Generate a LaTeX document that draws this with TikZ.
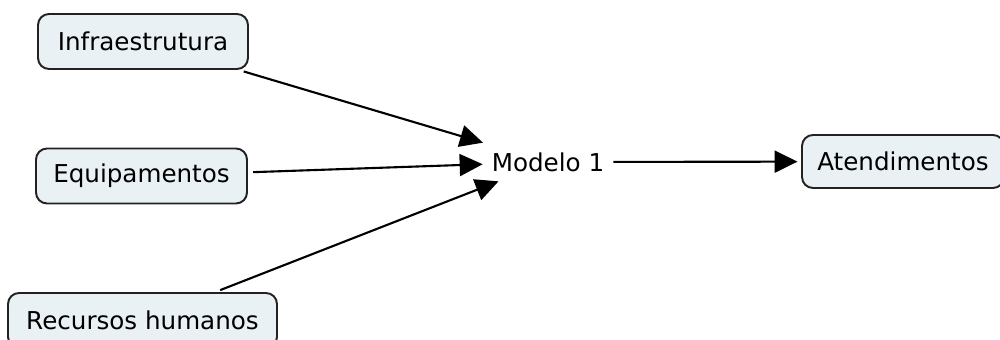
\documentclass[tikz,border=0pt]{standalone}
\usepackage{fontspec}
\setmainfont{DejaVu Sans}
\usetikzlibrary{arrows.meta}
\definecolor{boxfill}{HTML}{EAF1F5}
\definecolor{boxline}{HTML}{222222}
\begin{document}
\begin{tikzpicture}[x=0.02cm,y=-0.02cm,
  concept/.style={draw=boxline, fill=boxfill, line width=1.1pt, rounded corners=0.22cm,
    inner sep=0pt, minimum height=1.1cm, font=\fontsize{14}{17}\selectfont},
  hub/.style={inner sep=0pt, minimum width=2.6cm, minimum height=0.76cm,
    font=\fontsize{14}{17}\selectfont},
  link/.style={line width=1.2pt, shorten <=3pt,
    -{Triangle[length=0.46cm, width=0.44cm]}}]
  \useasboundingbox (0,0) rectangle (1000,340);

  % concepts
  \node[concept, minimum width=4.2cm]  (infra) at (143,41.5) {Infraestrutura};
  \node[concept, minimum width=4.22cm] (equip) at (141.5,176) {Equipamentos};
  \node[concept, minimum width=5.38cm] (rh)    at (142.5,320.5) {Recursos humanos};
  \node[hub]                           (model) at (548,162) {Modelo 1};
  \node[concept, minimum width=4.04cm, minimum height=1.06cm] (atend) at (903,161.5) {Atendimentos};

  % links
  \draw[link] (infra) -- (model);
  \draw[link] (equip) -- (model);
  \draw[link] (rh) -- (model);
  \draw[link, shorten <=0pt, shorten >=2pt] (model) -- (atend);
\end{tikzpicture}
\end{document}
